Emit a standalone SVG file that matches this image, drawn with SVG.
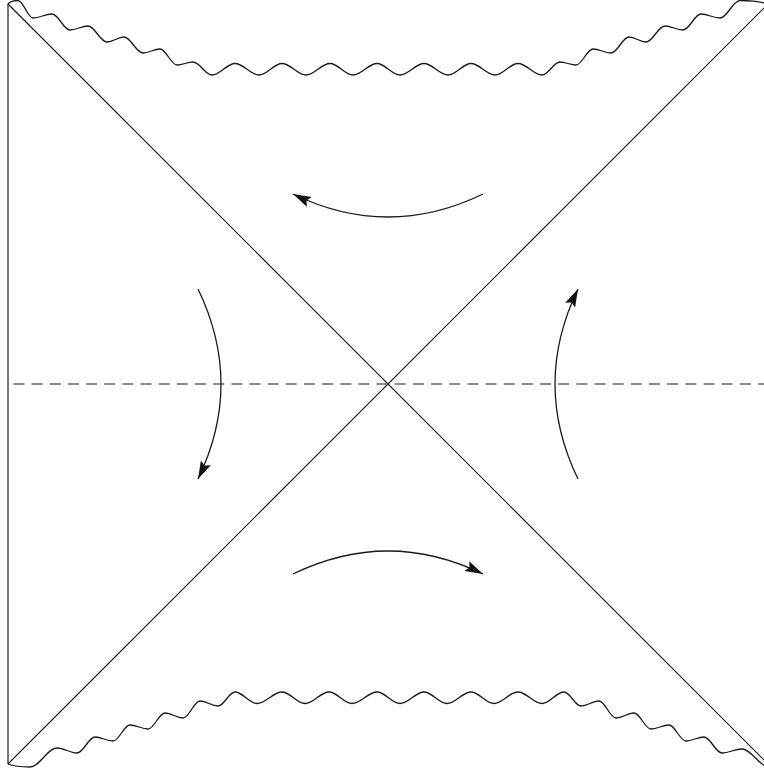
<svg xmlns="http://www.w3.org/2000/svg" width="764" height="776" viewBox="0 0 764 776">
<style>
.ln{fill:none;stroke:#1a1a1a;stroke-width:1.2}
.wave{fill:none;stroke:#1a1a1a;stroke-width:1.3;stroke-linejoin:round}
.dash{fill:none;stroke:#666;stroke-width:1.3;stroke-dasharray:11 7.16;stroke-dashoffset:12.76}
.flow{fill:none;stroke:#1a1a1a;stroke-width:1.3;marker-end:url(#ah)}
</style>
<defs>
<marker id="ah" markerUnits="userSpaceOnUse" viewBox="-20 -7 22 14" markerWidth="22" markerHeight="14" refX="0" refY="0" orient="auto">
<path d="M0,0 L-18,-5.5 L-15,0 L-18,5.5 Z" fill="#111"/>
</marker>
</defs>
<rect width="764" height="776" fill="#fff"/>
<g id="boundary">
<line class="ln" x1="8" y1="4" x2="8" y2="764"/>
<line class="ln" x1="8" y1="4" x2="768" y2="764"/>
<line class="ln" x1="8" y1="764" x2="768" y2="4"/>
<line class="dash" x1="8" y1="384" x2="764" y2="384"/>
</g>
<g id="singularity-top">
<path class="wave" d="M8,4 C10,1.5 14,0.5 18,0.5 C23.5,0.5 27.5,18 33,18 C39.9,18 45.1,14 52,14 C58.6,14 63.4,30 70,30 C76.6,30 81.4,26 88,26 C94.9,26 100.1,42 107,42 C113.2,42 117.8,37 124,37 C130.9,37 136.1,53 143,53 C149.2,53 153.8,49 160,49 C166.2,49 170.8,65 177,65 C182.8,65 187.2,62 193,62 C199.9,62 205.1,75 212,75 C220.4,75 226.6,63.5 235,63.5 C243.7,63.5 250.3,75 259,75 C267.4,75 273.6,63.5 282,63.5 C290.7,63.5 297.3,75 306,75 C314.7,75 321.3,63.5 330,63.5 C338.4,63.5 344.6,75 353,75 C361.7,75 368.3,63.5 377,63.5 C385.4,63.5 391.6,75 400,75 C408.7,75 415.3,63.5 424,63.5 C432.7,63.5 439.3,75 448,75 C456.4,75 462.6,63.5 471,63.5 C479.7,63.5 486.3,75 495,75 C503.4,75 509.6,63.5 518,63.5 C526.7,63.5 533.3,75 542,75 C548.6,75 553.4,62 560,62 C565.8,62 570.2,65 576,65 C582.2,65 586.8,49 593,49 C599.6,49 604.4,53 611,53 C617.6,53 622.4,37 629,37 C635.2,37 639.8,42 646,42 C652.9,42 658.1,26 665,26 C671.6,26 676.4,30 683,30 C689.6,30 694.4,14 701,14 C707.9,14 713.1,18 720,18 C727.3,18 732.7,0.5 740,0.5 C750,0.5 760,1.5 768,4"/>
</g>
<g id="singularity-bottom">
<path class="wave" d="M8,764 C14,766.5 22,767 30,767 C39.8,767 47.2,748 57,748 C64.3,748 69.7,753 77,753 C83.6,753 88.4,737 95,737 C101.6,737 106.4,741 113,741 C119.2,741 123.8,725 130,725 C136.6,725 141.4,729 148,729 C154.2,729 158.8,713 165,713 C171.6,713 176.4,718 183,718 C189.2,718 193.8,701 200,701 C206.6,701 211.4,706 218,706 C224.2,706 228.8,692 235,692 C243,692 249,703.5 257,703.5 C266.1,703.5 272.9,692 282,692 C290.4,692 296.6,703.5 305,703.5 C313.7,703.5 320.3,692 329,692 C337.4,692 343.6,703.5 352,703.5 C361.1,703.5 367.9,692 377,692 C385.4,692 391.6,703.5 400,703.5 C408.7,703.5 415.3,692 424,692 C432.4,692 438.6,703.5 447,703.5 C455.7,703.5 462.3,692 471,692 C479.4,692 485.6,703.5 494,703.5 C502.7,703.5 509.3,692 518,692 C526.7,692 533.3,703.5 542,703.5 C550,703.5 556,692 564,692 C570.2,692 574.8,706 581,706 C587.6,706 592.4,701 599,701 C605.2,701 609.8,718 616,718 C622.6,718 627.4,713 634,713 C640.2,713 644.8,729 651,729 C657.6,729 662.4,725 669,725 C675.2,725 679.8,741 686,741 C692.6,741 697.4,737 704,737 C710.6,737 715.4,753 722,753 C729.3,753 734.7,749 742,749 C751.8,749 759.2,767 769,767"/>
</g>
<g id="connectors">
<path id="flow-top" class="flow" d="M483,194 Q388,240 293,194"/>
<path id="flow-bottom" class="flow" d="M293,574 Q388,528 483,574"/>
<path id="flow-left" class="flow" d="M198,289 Q244,384 198,479"/>
<path id="flow-right" class="flow" d="M578,479 Q532,384 578,289"/>
</g>
</svg>
